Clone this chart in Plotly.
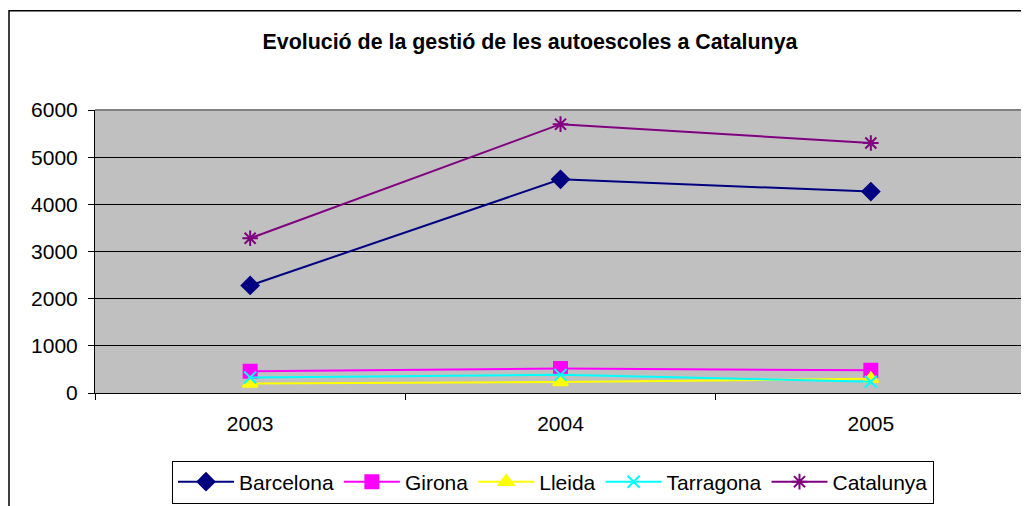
import plotly.graph_objects as go

years = ["2003", "2004", "2005"]
barcelona = [2280, 4530, 4270]
girona = [460, 520, 480]
lleida = [200, 235, 300]
tarragona = [330, 385, 240]
catalunya = [3280, 5700, 5300]

series = [
    ("Barcelona", barcelona, "#000080", "diamond", 13),
    ("Girona", girona, "#FF00FF", "square", 13),
    ("Lleida", lleida, "#FFFF00", "triangle-up", 13),
    ("Tarragona", tarragona, "#00FFFF", "x-thin-open", 12),
    ("Catalunya", catalunya, "#800080", "asterisk-open", 13),
]

FONT = "Liberation Sans, Arial, sans-serif"
fig = go.Figure()
for name, vals, col, sym, sz in series:
    fig.add_trace(go.Scatter(
        x=years, y=vals, name=name, mode="lines+markers",
        line=dict(color=col, width=2),
        marker=dict(symbol=sym, size=sz, color=col, line=dict(color=col, width=2)),
    ))

# page body has an 8px offset; coordinates below are figure-relative
OFF = 8
W, H = 1029, 506
L, R, T, B = 95 - OFF, 11, 110 - OFF, 119
pw, ph = W - L - R, H - T - B

def px(x):
    return (x - OFF - L) / pw

def py(y):
    return (H - B - (y - OFF)) / ph

fig.update_layout(
    width=W, height=H,
    margin=dict(l=L, r=R, t=T, b=B),
    paper_bgcolor="white",
    plot_bgcolor="#C0C0C0",
    font=dict(family=FONT, size=21, color="black"),
    title=dict(text="<b>Evolució de la gestió de les autoescoles a Catalunya</b>",
               x=px(530), xref="paper", xanchor="center",
               y=1 - (42 - OFF) / H, yref="container", yanchor="middle",
               font=dict(family=FONT, size=21.4, color="black")),
    showlegend=True,
    legend=dict(orientation="h", x=px(172), y=py(463), xanchor="left", yanchor="top",
                bordercolor="black", borderwidth=1, bgcolor="white",
                font=dict(family=FONT, size=21), itemwidth=56, tracegroupgap=0),
    xaxis=dict(type="category", range=[-0.5, 2.5], showgrid=False,
               ticks="outside", tickson="boundaries", ticklen=6, tickcolor="black",
               showline=True, linecolor="black", linewidth=1, zeroline=False,
               tickfont=dict(size=21), ticklabelstandoff=12),
    yaxis=dict(range=[0, 6000], dtick=1000, showgrid=True, gridcolor="black", gridwidth=1,
               ticks="outside", ticklen=6, tickcolor="black",
               showline=True, linecolor="black", linewidth=1, zeroline=False,
               tickfont=dict(size=21), ticklabelstandoff=6),
    shapes=[
        dict(type="line", xref="paper", yref="paper", x0=0, x1=1, y0=1, y1=1,
             line=dict(color="#808080", width=2)),
        dict(type="line", xref="paper", yref="paper", x0=1, x1=1, y0=0, y1=1,
             line=dict(color="#808080", width=2)),
        dict(type="rect", xref="paper", yref="paper",
             x0=px(9), x1=px(1045), y0=py(10), y1=py(530),
             line=dict(color="black", width=1.5), layer="below"),
    ],
)

fig.write_html("out.html")
